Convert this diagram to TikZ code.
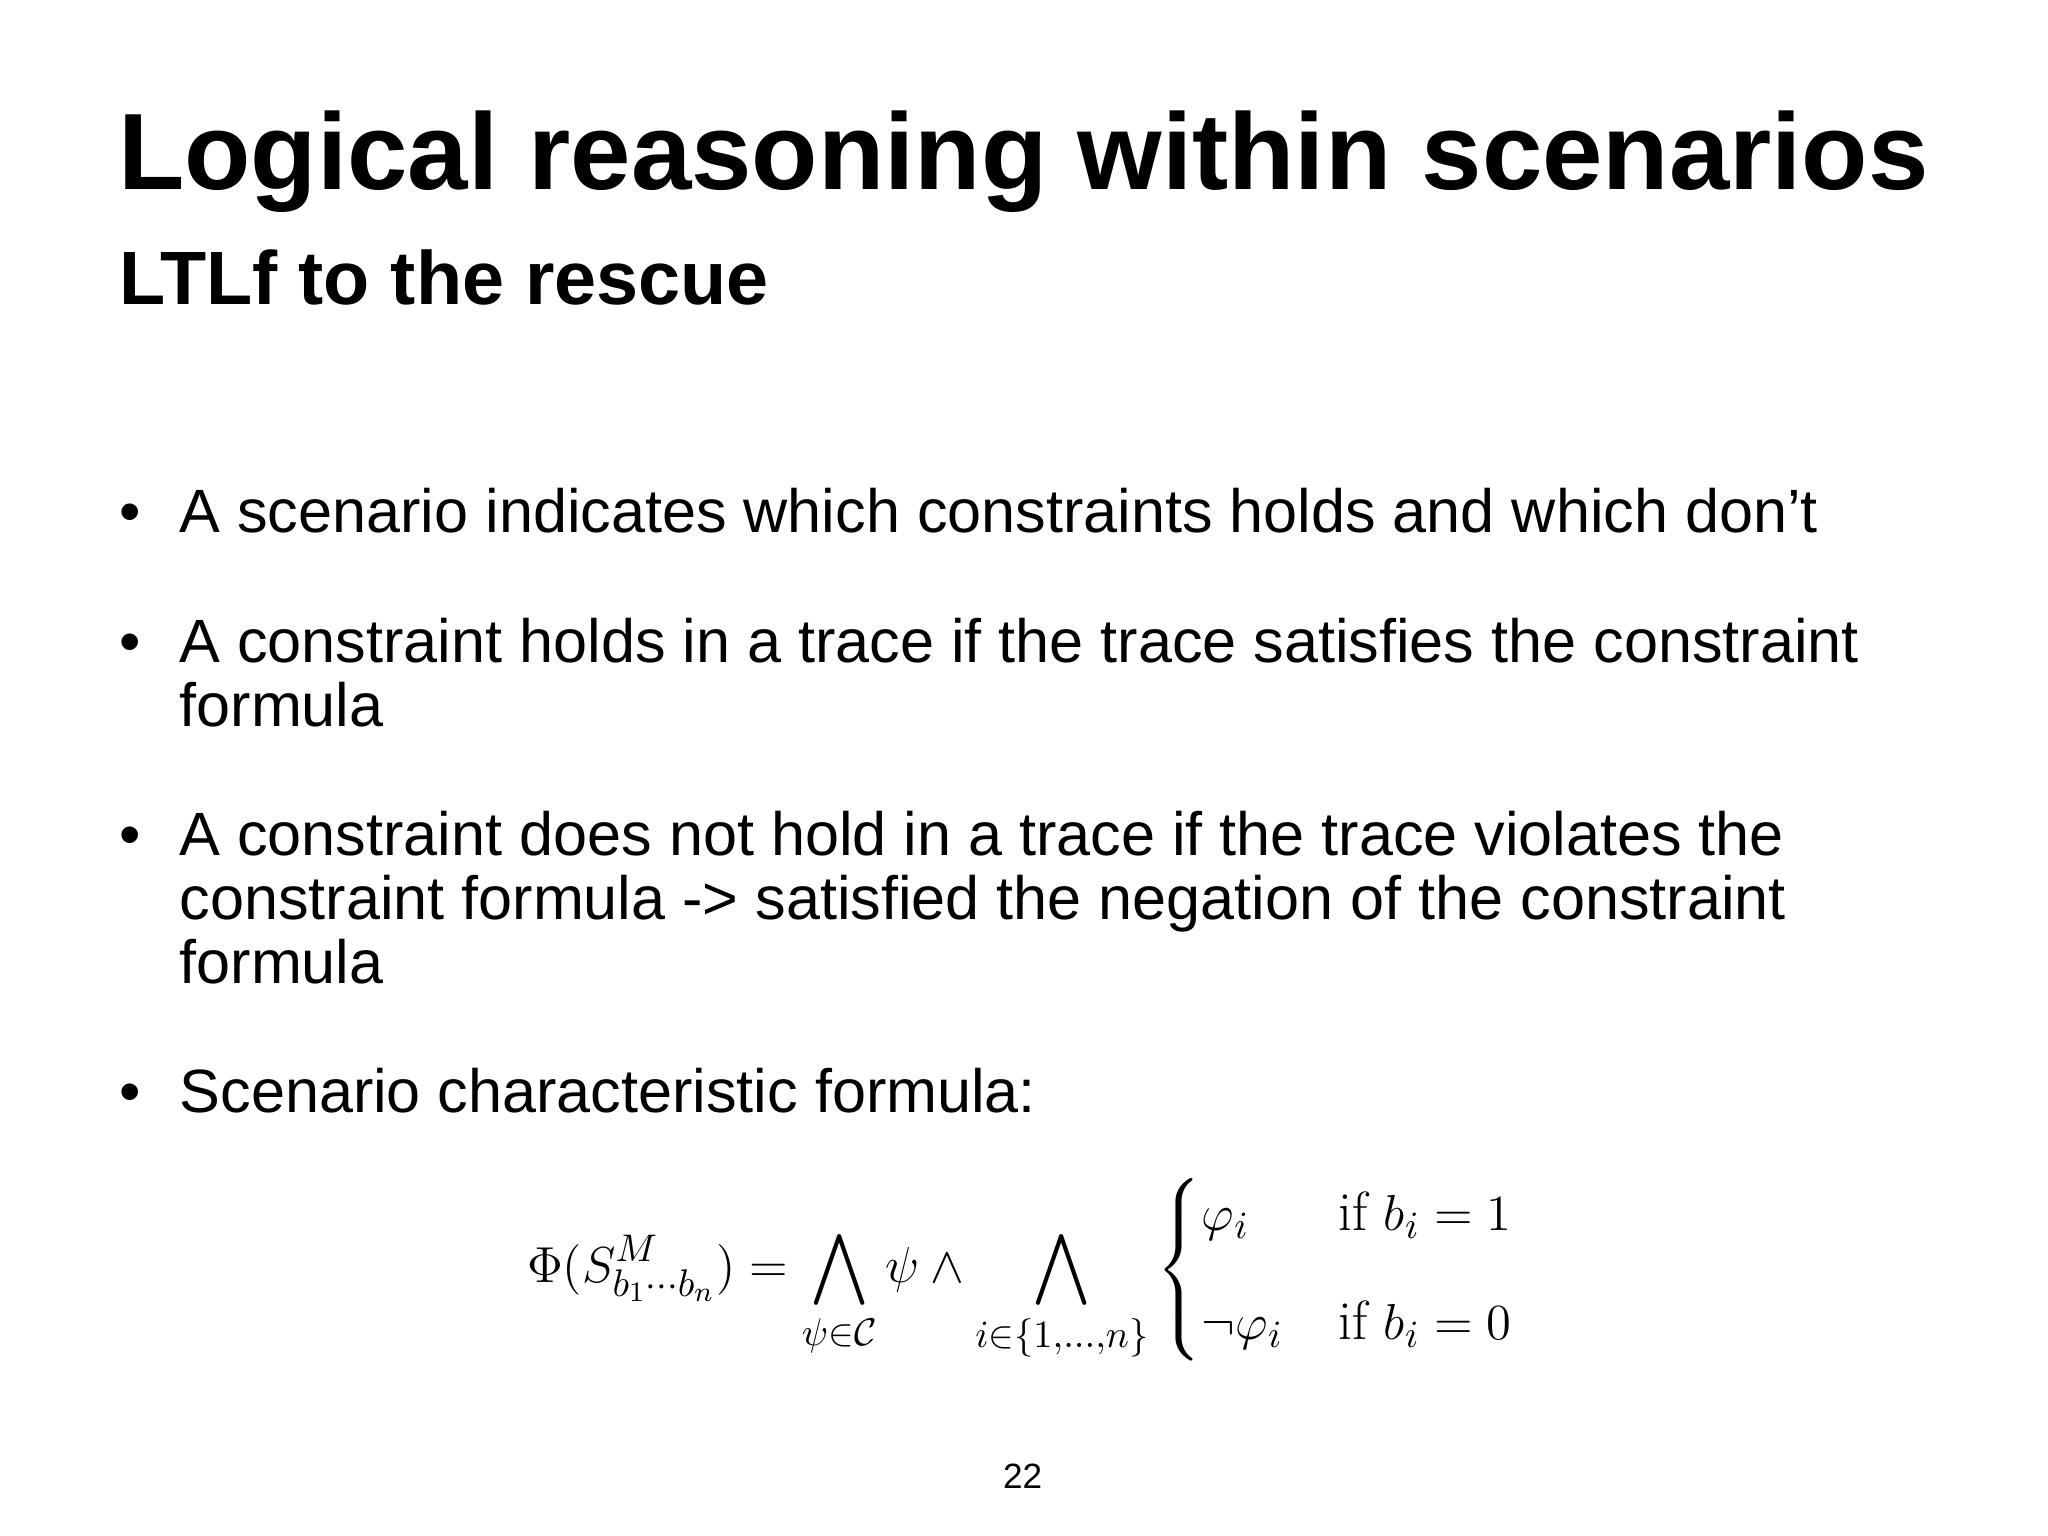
\documentclass[tikz,border=0pt]{standalone}
\usepackage{amsmath}
\usepackage{fontspec}
\setmainfont{Latin Modern Roman}
\newfontfamily\hel{Liberation Sans}
\begin{document}
\begin{tikzpicture}[x=0.013061cm,y=-0.013061cm,
  txt/.style={anchor=base west,inner sep=0,font=\hel\fontsize{17.4}{17.4}\selectfont},
  bul/.style={anchor=base,inner sep=0,font=\hel\fontsize{17.4}{17.4}\selectfont}]
\useasboundingbox (0,0) rectangle (1568,1176);
\node[anchor=base west,inner sep=0,font=\hel\bfseries\fontsize{30.9}{31}\selectfont] (title) at (90,145) {Logical reasoning within scenarios};
\node[anchor=base west,inner sep=0,font=\hel\bfseries\fontsize{21.5}{21.5}\selectfont] (sub) at (91,233) {LTLf to the rescue};
\node[bul] (b1) at (100,408) {•};
\node[txt] (t1) at (137,408) {A scenario indicates which constraints holds and which don’t};
\node[bul] (b2) at (100,507) {•};
\node[txt] (t2) at (137,507) {A constraint holds in a trace if the trace satisfies the constraint};
\node[txt] (t2b) at (137,556) {formula};
\node[bul] (b3) at (100,655) {•};
\node[txt] (t3) at (137,655) {A constraint does not hold in a trace if the trace violates the};
\node[txt] (t3b) at (137,704) {constraint formula -> satisfied the negation of the constraint};
\node[txt] (t3c) at (137,753) {formula};
\node[bul] (b4) at (100,852) {•};
\node[txt] (t4) at (137,852) {Scenario characteristic formula:};
\node[inner sep=0,font=\fontsize{15.7}{18}\selectfont] (f) at (782,972) {$\displaystyle
\Phi(S^M_{b_1\cdots b_n}) = \bigwedge_{\psi\in\mathcal{C}}\psi \wedge \bigwedge_{i\in\{1,\ldots,n\}}
\begin{cases} \varphi_i & \text{if } b_i = 1\\[0.6em] \neg\varphi_i & \text{if } b_i=0\end{cases}$};
\node[inner sep=0,font=\hel\fontsize{10}{10}\selectfont] (pg) at (783,1130) {22};
\end{tikzpicture}
\end{document}
